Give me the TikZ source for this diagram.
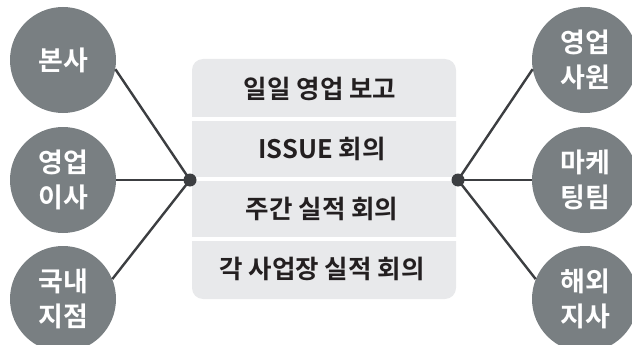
\documentclass[tikz,border=0pt]{standalone}
\usepackage{fontspec}
\setmainfont{Noto Sans CJK KR}[BoldFont={Noto Sans CJK KR Bold}]
\definecolor{unitgray}{HTML}{797F82}
\definecolor{boxgray}{HTML}{E8E9EB}
\definecolor{linkgray}{HTML}{3C3E41}
\definecolor{textdark}{HTML}{231F20}

\begin{document}
\begin{tikzpicture}[x=1pt,y=-1pt,
    unit/.style={circle, fill=unitgray, minimum size=106pt, inner sep=0pt,
      text=white, align=center, font=\bfseries\fontsize{27}{35}\selectfont},
    meeting/.style={text=textdark, font=\bfseries\fontsize{25.5}{30}\selectfont},
    link/.style={linkgray, line width=2.4pt},
    hub/.style={circle, fill=linkgray, minimum size=13pt, inner sep=0pt}]
    \useasboundingbox (0,0) rectangle (632,345);
    % meeting box
    \fill[boxgray, rounded corners=11pt] (192,59) rectangle (456,299);
    \foreach \y in {119,179,239}
        \draw[white, line width=4pt] (190,\y) -- (458,\y);
    \node[meeting] (m1) at (320,89) {일일 영업 보고};
    \node[meeting] (m2) at (322,149) {ISSUE 회의};
    \node[meeting] (m3) at (322,209) {주간 실적 회의};
    \node[meeting] (m4) at (322,269) {각 사업장 실적 회의};
    % left units
    \node[unit] (hq) at (63,60) {본사};
    \node[unit] (dir) at (63,180) {영업\\이사};
    \node[unit] (dom) at (63,299) {국내\\지점};
    % right units
    \node[unit] (rep) at (585,60) {영업\\사원};
    \node[unit] (mkt) at (585,180) {마케\\팅팀};
    \node[unit] (abr) at (585,299) {해외\\지사};
    % links
    \coordinate (hl) at (190,180);
    \coordinate (hr) at (458,180);
    \draw[link] (hl) -- (hq.-10);
    \draw[link] (hl) -- (dir.east);
    \draw[link] (hl) -- (dom.22);
    \draw[link] (hr) -- (rep.190);
    \draw[link] (hr) -- (mkt.west);
    \draw[link] (hr) -- (abr.158);
    \node[hub] (hubl) at (hl) {};
    \node[hub] (hubr) at (hr) {};
\end{tikzpicture}
\end{document}
